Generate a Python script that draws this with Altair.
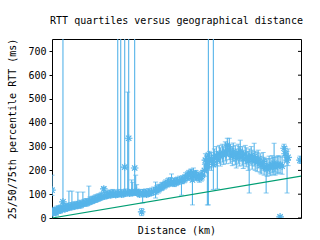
import altair as alt
import pandas as pd

# distance (km), RTT median and quartiles (ms)
dist_km = [0, 0, 80, 160, 240, 320, 400, 480, 560, 640, 720, 800, 880, 960, 1040, 1120, 1200, 1280, 1360,
           1520, 1600, 1760, 1840, 2000, 2080, 2240, 2320, 2480, 2560, 2720, 2800, 2960, 3040, 3200, 3280,
           3440, 3520, 3680, 3760, 3920, 4000, 4160, 4240, 4400, 4480, 4640, 4720, 4880, 4960, 5120, 5280,
           5360, 5520, 5600, 5760, 5840, 5920, 6080, 6160, 6240, 6400, 6480, 6640, 6720, 6800, 6960, 7040,
           7200, 7280, 7360, 7520, 7600, 7760, 7840, 8000, 8160, 8320, 8400, 8560, 8640, 8800, 8880, 9040,
           9120, 9280, 9360, 9520, 9600, 9760, 9840, 10000, 10080, 10240, 10400, 10480, 10640, 10720, 10880,
           10960, 11120, 11200, 11280, 11360, 11520, 11600, 11760, 11840, 12000, 12080, 12240, 12320, 12400,
           12480, 12560, 12640, 12800, 12960, 13040, 13200, 13280, 13440, 13520, 13680, 13760, 13920, 14000,
           14080, 14240, 14320, 14480, 14560, 14720, 14800, 14960, 15040, 15120, 15280, 15360, 15520, 15600,
           15760, 15840, 16000, 16080, 16240, 16320, 16480, 16560, 16720, 16800, 16960, 17040, 17200, 17280,
           17440, 17520, 17680, 17760, 17840, 17920, 18080, 18160, 18320, 18320, 18480, 18640, 18720, 18880,
           18960, 19920]
rtt_median = [117, 25, 20, 30, 28, 22, 35, 30, 38, 33, 40, 36, 68, 42, 38, 45, 42, 48, 45,
              50, 47, 52, 50, 55, 53, 58, 55, 60, 62, 65, 63, 68, 70, 72, 75,
              78, 80, 82, 85, 88, 90, 122, 92, 95, 98, 100, 97, 102, 100, 98, 100,
              103, 105, 100, 102, 214, 105, 108, 335, 104, 110, 106, 210, 108, 112, 104, 100,
              26, 106, 102, 104, 100, 106, 104, 108, 112, 115, 118, 122, 126, 130, 134, 138,
              142, 146, 148, 150, 152, 150, 148, 152, 155, 158, 155, 160, 165, 170, 175,
              180, 188, 185, 160, 190, 182, 178, 172, 168, 175, 180, 200, 243, 230,
              215, 264, 250, 240, 225, 255, 262, 245, 270, 258, 275, 265, 280, 268,
              306, 290, 272, 260, 278, 265, 250, 270, 258, 280, 262, 248, 268, 255,
              240, 252, 262, 245, 258, 240, 235, 248, 230, 222, 238, 215, 214, 205,
              220, 212, 225, 218, 230, 215, 220, 225, 5, 222, 218, 293, 270, 243,
              255, 243]
rtt_q25 = [95, 15, 10, 18, 15, 12, 22, 20, 25, 20, 28, 25, 40, 30, 28, 32, 30, 35, 32,
           38, 35, 40, 38, 42, 40, 45, 42, 48, 50, 52, 50, 55, 58, 60, 62,
           65, 66, 70, 72, 75, 78, 95, 80, 82, 85, 88, 85, 90, 88, 86, 90,
           90, 95, 88, 90, 100, 92, 95, 110, 92, 96, 94, 110, 95, 98, 92, 88,
           10, 63, 90, 92, 88, 94, 92, 95, 98, 84, 100, 105, 110, 115, 118, 122,
           126, 130, 132, 135, 136, 134, 132, 136, 140, 142, 96, 144, 148, 152, 158,
           160, 165, 165, 55, 168, 160, 158, 155, 150, 155, 160, 175, 200, 190,
           55, 55, 210, 200, 120, 215, 220, 122, 230, 218, 235, 225, 240, 228,
           260, 245, 230, 220, 238, 225, 210, 230, 218, 240, 222, 208, 228, 215,
           200, 105, 222, 205, 218, 200, 195, 210, 190, 185, 198, 180, 105, 175,
           185, 178, 190, 182, 195, 180, 185, 190, 0, 188, 184, 260, 235, 105,
           220, 230]
rtt_q75 = [180, 40, 35, 45, 42, 38, 50, 45, 52, 48, 55, 50, 2000, 58, 52, 60, 58, 62, 113,
           65, 113, 68, 66, 70, 109, 75, 72, 109, 78, 82, 80, 134, 88, 90, 92,
           95, 98, 100, 102, 105, 108, 130, 110, 112, 115, 118, 115, 120, 118, 116, 2000,
           120, 2000, 118, 120, 2000, 122, 529, 2000, 120, 160, 150, 2000, 180, 140, 120, 118,
           40, 120, 120, 122, 118, 124, 120, 126, 130, 151, 135, 140, 142, 148, 150, 155,
           160, 165, 168, 170, 185, 168, 166, 170, 172, 176, 174, 178, 182, 190, 195,
           200, 205, 205, 180, 210, 200, 198, 192, 188, 195, 200, 225, 270, 260,
           250, 2000, 280, 275, 2000, 290, 300, 280, 305, 295, 310, 300, 320, 305,
           335, 335, 310, 300, 315, 305, 290, 310, 300, 327, 300, 285, 305, 295,
           280, 290, 300, 285, 314, 280, 275, 285, 270, 260, 275, 255, 250, 245,
           260, 250, 262, 255, 314, 255, 258, 262, 10, 260, 255, 310, 300, 280,
           290, 260]

# reference line (km, ms)
line_km = [0, 20000]
line_rtt = [0, 176]

y_ticks = [0, 100, 200, 300, 400, 500, 600, 700]

BLUE = "#56b4e9"
GREEN = "#009e73"
FONT = "DejaVu Sans Mono"
STAR = "M-1,0L1,0M0,-1L0,1M-0.7,-0.7L0.7,0.7M-0.7,0.7L0.7,-0.7"

df = pd.DataFrame({"dist": dist_km, "med": rtt_median, "q25": rtt_q25, "q75": rtt_q75})
line_df = pd.DataFrame({"dist": line_km, "rtt": line_rtt})
ticks_df = pd.DataFrame({"t": y_ticks})

xscale = alt.Scale(domain=[0, 20000], nice=False, zero=False)
yscale = alt.Scale(domain=[0, 752], nice=False)

xenc = alt.X("dist:Q", scale=xscale,
             axis=alt.Axis(title="Distance (km)", labels=False, ticks=False, domain=False,
                           grid=False, titlePadding=7))
yaxis = alt.Axis(title="25/50/75th percentile RTT (ms)", values=y_ticks, tickSize=3,
                 labelPadding=3, domain=False, grid=False, titlePadding=10)

bars = alt.Chart(df).mark_rule(color=BLUE, strokeWidth=1.1, clip=True).encode(
    x=xenc,
    y=alt.Y("q25:Q", scale=yscale, axis=yaxis),
    y2="q75:Q",
)
cap_lo = alt.Chart(df).mark_tick(color=BLUE, orient="horizontal", size=5, thickness=1, clip=True).encode(
    x=xenc, y=alt.Y("q25:Q", scale=yscale, axis=yaxis))
cap_hi = alt.Chart(df).mark_tick(color=BLUE, orient="horizontal", size=5, thickness=1, clip=True).encode(
    x=xenc, y=alt.Y("q75:Q", scale=yscale, axis=yaxis))
pts = alt.Chart(df).mark_point(shape=STAR, size=58, filled=False, color=BLUE, strokeWidth=1.2,
                               opacity=1, clip=True).encode(
    x=xenc, y=alt.Y("med:Q", scale=yscale, axis=yaxis))
line = alt.Chart(line_df).mark_line(color=GREEN, strokeWidth=1.2, clip=True).encode(
    x=xenc, y=alt.Y("rtt:Q", scale=yscale, axis=yaxis))
rticks = alt.Chart(ticks_df).mark_rule(color="black", strokeWidth=1).encode(
    y=alt.Y("t:Q", scale=yscale, axis=yaxis), x=alt.value(246), x2=alt.value(249))

chart = alt.layer(bars, cap_lo, cap_hi, pts, line, rticks).properties(
    width=249, height=179,
    autosize=alt.AutoSizeParams(type="none"),
    padding={"left": 52, "top": 39, "right": 19, "bottom": 22},
    title=alt.TitleParams("RTT quartiles versus geographical distance", font=FONT, fontSize=10,
                          fontWeight="normal", anchor="middle", color="black", offset=12),
).configure_view(stroke="black", strokeWidth=1).configure_axis(
    labelFont=FONT, titleFont=FONT, labelFontSize=10, titleFontSize=10, titleFontWeight="normal",
    labelColor="black", titleColor="black", tickColor="black",
)

chart.save("out.html", embed_options={"renderer": "svg", "actions": False})
